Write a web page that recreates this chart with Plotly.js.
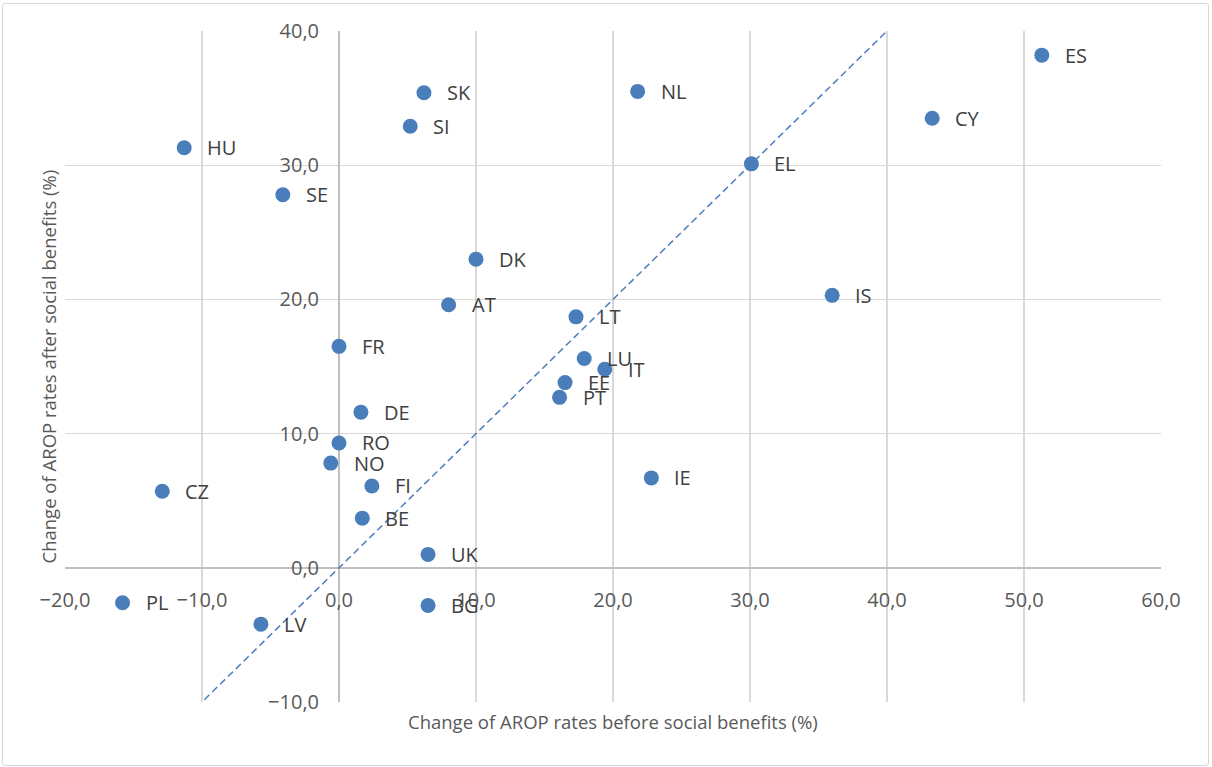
<!DOCTYPE html>
<html>
<head>
<meta charset="utf-8">
<script src="https://cdn.plot.ly/plotly-3.0.1.min.js"></script>
<style>
  html, body { margin: 0; padding: 0; background: #ffffff; }
  #chart { width: 1212px; height: 767px; }
  #frame { position: absolute; left: 2px; top: 3px; width: 1205px; height: 761px;
           border: 1px solid #d9d9d9; border-radius: 3px; pointer-events: none; }
</style>
</head>
<body>
<div id="chart"></div>
<div id="frame"></div>
<script>
// Country codes
const countries = ["ES","CY","EL","IS","NL","SK","SI","HU","SE","DK","AT","LT","FR","LU","IT","EE","PT","DE","RO","NO","FI","CZ","IE","BE","UK","PL","BG","LV"];
// Change of AROP rates before social benefits (%)
const beforeBenefits = [51.3,43.3,30.1,36.0,21.8,6.2,5.2,-11.3,-4.1,10.0,8.0,17.3,0.0,17.9,19.4,16.5,16.1,1.6,0.0,-0.6,2.4,-12.9,22.8,1.7,6.5,-15.8,6.5,-5.7];
// Change of AROP rates after social benefits (%)
const afterBenefits = [38.2,33.5,30.1,20.3,35.5,35.4,32.9,31.3,27.8,23.0,19.6,18.7,16.5,15.6,14.8,13.8,12.7,11.6,9.3,7.8,6.1,5.7,6.7,3.7,1.0,-2.6,-2.8,-4.2];
// Reference diagonal (before = after)
const diagX = [-10.4, 40.4];
const diagY = [-10.4, 40.4];

const xTitle = "Change of AROP rates before social benefits (%)";
const yTitle = "Change of AROP rates after social benefits (%)";

const FONT = "Open Sans, Liberation Sans, sans-serif";
const BLUE = "#4a7ebb";

const traces = [
  {
    x: diagX, y: diagY, type: "scatter", mode: "lines",
    line: { color: BLUE, width: 1.5, dash: "7px,4px" },
    hoverinfo: "skip", showlegend: false
  },
  {
    x: beforeBenefits, y: afterBenefits, type: "scatter", mode: "markers",
    marker: { color: BLUE, size: 15 },
    text: countries, showlegend: false, cliponaxis: false
  }
];

const annotations = countries.map((c, i) => ({
  x: beforeBenefits[i], y: afterBenefits[i], xref: "x", yref: "y",
  text: c, showarrow: false, xanchor: "left", yanchor: "middle",
  xshift: 21, yshift: 0,
  font: { family: FONT, size: 20, color: "#404040" }
}));

annotations.push({
  x: 0.5, y: 0, xref: "paper", yref: "paper", text: xTitle, showarrow: false,
  xanchor: "center", yanchor: "middle", yshift: -19,
  font: { family: FONT, size: 18.5, color: "#595959" }
});
annotations.push({
  x: 0, y: 0.5, xref: "paper", yref: "paper", text: yTitle, showarrow: false,
  xanchor: "center", yanchor: "middle", xshift: -17, textangle: -90,
  font: { family: FONT, size: 18.5, color: "#595959" }
});

const layout = {
  width: 1212, height: 767,
  margin: { l: 65, r: 51, t: 31, b: 65 },
  paper_bgcolor: "#ffffff", plot_bgcolor: "#ffffff",
  separators: ", ",
  showlegend: false,
  font: { family: FONT, color: "#595959" },
  xaxis: {
    range: [-20, 60], dtick: 10, tick0: 0, tickformat: ".1f",
    anchor: "free", position: 0.2,
    showgrid: true, gridcolor: "#d9d9d9", gridwidth: 1.3,
    zeroline: true, zerolinecolor: "#bfbfbf", zerolinewidth: 1.5,
    showline: false, ticks: "", ticklabelstandoff: 18,
    tickfont: { family: FONT, size: 20, color: "#595959" }
  },
  yaxis: {
    range: [-10, 40], dtick: 10, tick0: 0, tickformat: ".1f",
    anchor: "free", position: 0.25,
    showgrid: true, gridcolor: "#d9d9d9", gridwidth: 1.3,
    zeroline: true, zerolinecolor: "#bfbfbf", zerolinewidth: 1.5,
    showline: false, ticks: "", ticklabelstandoff: 20,
    tickfont: { family: FONT, size: 20, color: "#595959" }
  },
  annotations: annotations
};

Plotly.newPlot("chart", traces, layout, { displayModeBar: false, staticPlot: true });
</script>
</body>
</html>
